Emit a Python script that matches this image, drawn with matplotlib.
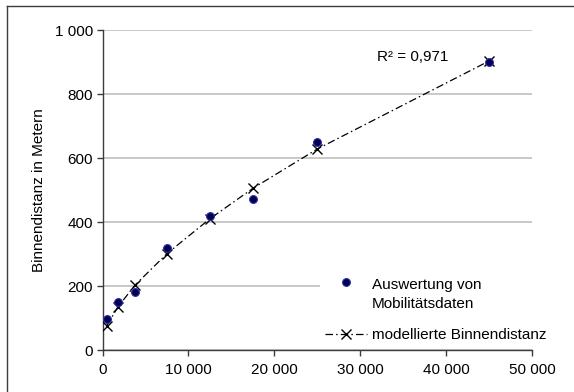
import matplotlib
matplotlib.use("Agg")
import matplotlib.pyplot as plt
from matplotlib.ticker import FuncFormatter, MultipleLocator
from matplotlib.legend_handler import HandlerLine2D
from matplotlib.lines import Line2D

plt.rcParams['font.family'] = ['Liberation Sans', 'DejaVu Sans']

# Data
x_vals = [500, 1800, 3800, 7500, 12500, 17500, 25000, 45000]
observed = [98, 149, 180, 319, 419, 472, 651, 901]
modelled = [76, 135, 203, 301, 410, 505, 628, 903]
label_obs = "Auswertung von\nMobilitätsdaten"
label_mod = "modellierte Binnendistanz"
r2_text = "R² = 0,971"
y_label = "Binnendistanz in Metern"

W, H = 574, 392
fig = plt.figure(figsize=(W / 100, H / 100), dpi=100)
ax = fig.add_axes([102.5 / W, 1 - 350 / H, (532 - 102.5) / W, (350 - 30) / H])

FS = 11
ax.set_xlim(0, 50000)
ax.set_ylim(0, 1000)
ax.xaxis.set_major_locator(MultipleLocator(10000))
ax.yaxis.set_major_locator(MultipleLocator(200))
fmt = FuncFormatter(lambda v, p: f"{int(v):,}".replace(",", " "))
ax.xaxis.set_major_formatter(fmt)
ax.yaxis.set_major_formatter(fmt)

ax.grid(axis='y', color='#c4c4c4', lw=1.3, zorder=0)
ax.set_axisbelow(True)
for s in ['top', 'right']:
    ax.spines[s].set_visible(False)
for s in ['left', 'bottom']:
    ax.spines[s].set_color('#3c3c3c')
    ax.spines[s].set_linewidth(1.0)
ax.tick_params(axis='both', direction='out', length=4, width=1.0, color='#3c3c3c',
               labelsize=FS, labelcolor='black')
ax.tick_params(axis='x', pad=5)
ax.tick_params(axis='y', pad=3)

ax.set_ylabel(y_label, fontsize=FS)
ax.yaxis.set_label_coords(-0.131, 0.5)

line_mod, = ax.plot(x_vals, modelled, color='black', lw=0.9,
                    linestyle=(0, (6, 2.5, 1.2, 2.5)), marker='x', ms=7,
                    mew=1.0, mec='black', label=label_mod, zorder=3)
dots, = ax.plot(x_vals, observed, linestyle='none', marker='o', ms=5.6,
                mfc='#00004a', mec='#2a2ab0', mew=0.8, label=label_obs, zorder=4)

ax.text(32000, 915, r2_text, fontsize=FS, ha='left', va='center')


class TopHandler(HandlerLine2D):
    def create_artists(self, legend, orig_handle, xdescent, ydescent, width,
                       height, fontsize, trans):
        arts = super().create_artists(legend, orig_handle, xdescent, ydescent,
                                      width, height, fontsize, trans)
        for a in arts:
            yd = a.get_ydata()
            a.set_ydata([y + 0.8 * fontsize for y in yd])
        return arts


leg = fig.legend([dots, line_mod], [label_obs, label_mod],
                 loc='upper left', bbox_to_anchor=(320 / W, 1 - 273 / H),
                 bbox_transform=fig.transFigure, borderaxespad=0,
                 frameon=True, fontsize=FS, handlelength=2.8,
                 handletextpad=0.3, borderpad=0.3, labelspacing=1.15,
                 handler_map={dots: TopHandler()})
for t in leg.get_texts():
    t.set_linespacing(1.45)
leg.get_frame().set_facecolor('white')
leg.get_frame().set_edgecolor('none')
leg.get_frame().set_alpha(1)

# outer chart border (top and left visible)
fig.add_artist(Line2D([6.5 / W, 6.5 / W], [0, 1 - 5.5 / H], transform=fig.transFigure,
                      color='#3c3c3c', lw=1.0))
fig.add_artist(Line2D([6.5 / W, 1], [1 - 5.5 / H, 1 - 5.5 / H], transform=fig.transFigure,
                      color='#3c3c3c', lw=1.0))

fig.savefig("out.png", dpi=100)
